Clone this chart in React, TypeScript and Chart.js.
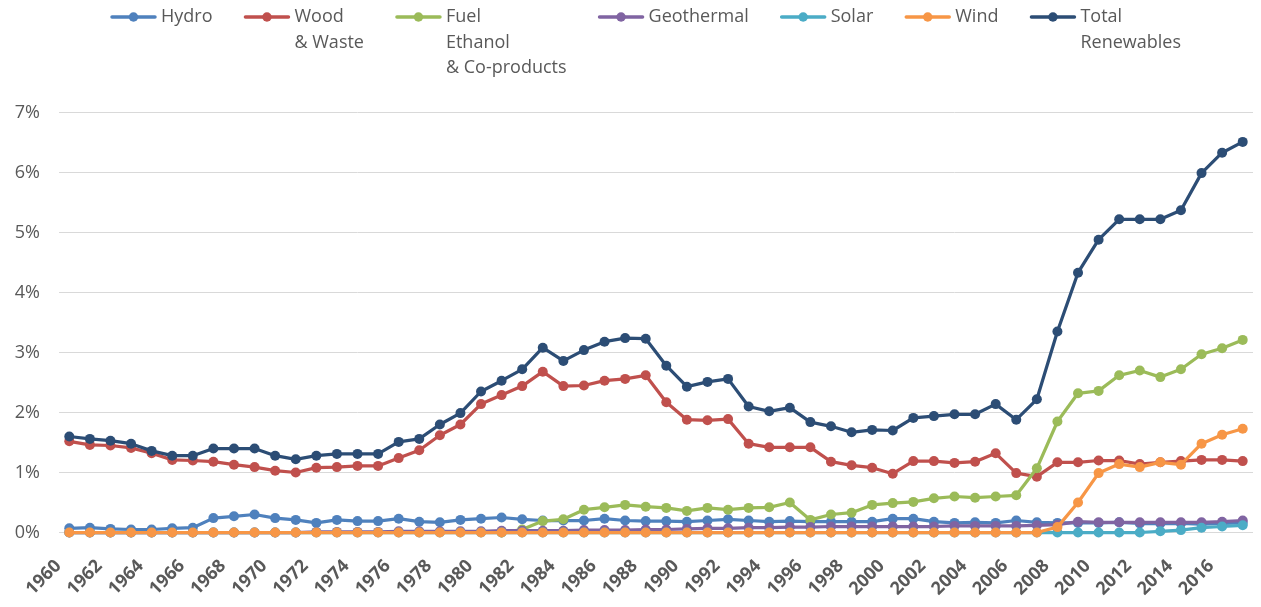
import React, { useEffect, useRef } from "react";
import { Chart, registerables } from "chart.js";

Chart.register(...registerables);

const YEARS = [
  "1960", "1961", "1962", "1963", "1964", "1965", "1966", "1967", "1968", "1969",
  "1970", "1971", "1972", "1973", "1974", "1975", "1976", "1977", "1978", "1979",
  "1980", "1981", "1982", "1983", "1984", "1985", "1986", "1987", "1988", "1989",
  "1990", "1991", "1992", "1993", "1994", "1995", "1996", "1997", "1998", "1999",
  "2000", "2001", "2002", "2003", "2004", "2005", "2006", "2007", "2008", "2009",
  "2010", "2011", "2012", "2013", "2014", "2015", "2016", "2017",
];

const HYDRO = [
  0.07, 0.08, 0.06, 0.05, 0.05, 0.07, 0.08, 0.24, 0.27, 0.30,
  0.24, 0.21, 0.16, 0.21, 0.19, 0.19, 0.23, 0.18, 0.17, 0.21,
  0.23, 0.25, 0.22, 0.20, 0.20, 0.20, 0.23, 0.20, 0.19, 0.19,
  0.18, 0.20, 0.22, 0.20, 0.18, 0.19, 0.18, 0.18, 0.18, 0.18,
  0.23, 0.23, 0.18, 0.16, 0.17, 0.16, 0.20, 0.17, 0.16, 0.16,
  0.16, 0.17, 0.15, 0.15, 0.15, 0.14, 0.15, 0.16,
];

const WOOD = [
  1.52, 1.46, 1.45, 1.41, 1.32, 1.21, 1.20, 1.18, 1.13, 1.09,
  1.03, 1.00, 1.08, 1.09, 1.11, 1.11, 1.24, 1.37, 1.62, 1.80,
  2.14, 2.29, 2.44, 2.68, 2.44, 2.45, 2.53, 2.56, 2.62, 2.17,
  1.88, 1.87, 1.89, 1.48, 1.42, 1.42, 1.42, 1.18, 1.12, 1.08,
  0.98, 1.19, 1.19, 1.16, 1.18, 1.32, 0.99, 0.93, 1.17, 1.17,
  1.20, 1.20, 1.14, 1.17, 1.19, 1.21, 1.21, 1.19,
];

const FUEL_ETHANOL = [
  null, null, null, null, null, null, null, null, null, null,
  null, null, null, null, null, null, null, null, null, null,
  null, 0.0, 0.05, 0.19, 0.22, 0.38, 0.42, 0.46, 0.43, 0.41,
  0.36, 0.41, 0.38, 0.41, 0.42, 0.50, 0.21, 0.30, 0.33, 0.46,
  0.49, 0.51, 0.57, 0.60, 0.58, 0.60, 0.62, 1.07, 1.85, 2.32,
  2.36, 2.62, 2.70, 2.59, 2.72, 2.97, 3.07, 3.21,
];

const GEOTHERMAL = [
  0, 0, 0, 0, 0, 0, 0, 0, 0, 0,
  0, 0, 0.01, 0.01, 0.01, 0.01, 0.02, 0.02, 0.02, 0.02,
  0.02, 0.03, 0.03, 0.03, 0.03, 0.04, 0.04, 0.04, 0.05, 0.05,
  0.06, 0.07, 0.07, 0.08, 0.08, 0.09, 0.09, 0.10, 0.10, 0.10,
  0.10, 0.10, 0.10, 0.11, 0.11, 0.11, 0.11, 0.12, 0.13, 0.18,
  0.17, 0.17, 0.17, 0.17, 0.17, 0.17, 0.18, 0.20,
];

const SOLAR = [
  0, 0, 0, 0, 0, 0, 0, 0, 0, 0,
  0, 0, 0, 0, 0, 0, 0, 0, 0, 0,
  0, 0, 0, 0, 0, 0, 0, 0, 0, 0,
  0, 0, 0, 0, 0, 0, 0, 0, 0, 0,
  0, 0, 0, 0, 0, 0, 0, 0, 0, 0,
  0, 0, 0, 0.02, 0.04, 0.08, 0.10, 0.12,
];

const WIND = [
  0, 0, 0, 0, 0, 0, 0, 0, 0, 0,
  0, 0, 0, 0, 0, 0, 0, 0, 0, 0,
  0, 0, 0, 0, 0, 0, 0, 0, 0, 0,
  0, 0, 0, 0, 0, 0, 0, 0, 0, 0,
  0, 0, 0, 0, 0, 0, 0, 0, 0.09, 0.50,
  0.99, 1.14, 1.09, 1.17, 1.13, 1.48, 1.63, 1.73,
];

const TOTAL = [
  1.60, 1.56, 1.53, 1.48, 1.36, 1.28, 1.28, 1.40, 1.40, 1.40,
  1.28, 1.22, 1.28, 1.31, 1.31, 1.31, 1.51, 1.56, 1.80, 1.99,
  2.35, 2.53, 2.72, 3.08, 2.86, 3.04, 3.18, 3.24, 3.23, 2.78,
  2.43, 2.51, 2.56, 2.10, 2.02, 2.08, 1.84, 1.77, 1.67, 1.71,
  1.70, 1.91, 1.94, 1.97, 1.97, 2.14, 1.88, 2.22, 3.35, 4.33,
  4.88, 5.22, 5.22, 5.22, 5.37, 5.99, 6.33, 6.51,
];

const SERIES_LABELS = [
  ["Hydro"],
  ["Wood", "& Waste"],
  ["Fuel", "Ethanol", "& Co-products"],
  ["Geothermal"],
  ["Solar"],
  ["Wind"],
  ["Total", "Renewables"],
];

const SERIES_COLORS = ["#4F81BD", "#C0504D", "#9BBB59", "#8064A2", "#4BACC6", "#F79646", "#2C4D75"];
const SERIES_DATA = [HYDRO, WOOD, FUEL_ETHANOL, GEOTHERMAL, SOLAR, WIND, TOTAL];

const Y_TICKS = [0, 1, 2, 3, 4, 5, 6, 7];

const FONT = "'Open Sans', 'Noto Sans', sans-serif";
const TEXT_COLOR = "#595959";

const legendPlugin = {
  id: "excelLegend",
  afterDraw(chart: any) {
    const ctx = chart.ctx as CanvasRenderingContext2D;
    ctx.save();
    ctx.font = `18px ${FONT}`;
    ctx.textBaseline = "middle";
    ctx.textAlign = "left";
    const sampleW = 47;
    const textGap = 4;
    const lineH = 25.5;
    const y0 = 17;
    const startX = 110;
    const endX = 1181;
    const items = chart.data.datasets.map((ds: any, i: number) => {
      const lines = SERIES_LABELS[i];
      const tw = Math.max(...lines.map((l) => ctx.measureText(l).width));
      return { ds, lines, w: sampleW + textGap + tw };
    });
    const total = items.reduce((s: number, it: any) => s + it.w, 0);
    const gap = (endX - startX - total) / (items.length - 1);
    let x = startX;
    items.forEach((it: any) => {
      const color = it.ds.borderColor;
      ctx.strokeStyle = color;
      ctx.lineWidth = 3.5;
      ctx.lineCap = "round";
      ctx.beginPath();
      ctx.moveTo(x + 2, y0);
      ctx.lineTo(x + sampleW - 2, y0);
      ctx.stroke();
      ctx.fillStyle = color;
      ctx.beginPath();
      ctx.arc(x + sampleW / 2, y0, 4.75, 0, Math.PI * 2);
      ctx.fill();
      ctx.fillStyle = TEXT_COLOR;
      it.lines.forEach((l: string, j: number) => {
        ctx.fillText(l, x + sampleW + textGap, y0 + j * lineH);
      });
      x += it.w + gap;
    });
    ctx.restore();
  },
};

export default function App() {
  const ref = useRef<HTMLCanvasElement>(null);

  useEffect(() => {
    if (!ref.current) return;
    const datasets = SERIES_DATA.map((data, i) => ({
      label: SERIES_LABELS[i].join(" "),
      data,
      borderColor: SERIES_COLORS[i],
      backgroundColor: SERIES_COLORS[i],
      pointBackgroundColor: SERIES_COLORS[i],
      pointBorderColor: SERIES_COLORS[i],
      pointBorderWidth: 0,
      pointRadius: 5,
      pointHoverRadius: 5,
      borderWidth: 3.25,
      borderJoinStyle: "round" as const,
      borderCapStyle: "round" as const,
      tension: 0,
      fill: false,
      spanGaps: false,
      clip: false,
      order: SERIES_DATA.length - 1 - i,
    }));

    const chart = new Chart(ref.current, {
      type: "line",
      data: { labels: YEARS, datasets },
      plugins: [legendPlugin],
      options: {
        animation: false,
        responsive: false,
        layout: { padding: { top: 112.5, right: 8, bottom: 0, left: 0 } },
        plugins: {
          legend: { display: false },
          tooltip: { enabled: false },
          title: { display: false },
        },
        scales: {
          x: {
            type: "category",
            offset: true,
            grid: { display: false, drawTicks: false },
            border: { display: false },
            ticks: {
              autoSkip: false,
              maxRotation: 45,
              minRotation: 45,
              padding: 23,
              labelOffset: -11,
              color: TEXT_COLOR,
              font: { family: FONT, size: 18, weight: "bold" },
              callback: (_v: any, i: number) => (i % 2 === 0 ? YEARS[i] : ""),
            },
            afterFit: (s: any) => {
              s.height = 74.5;
              s.paddingLeft = 0;
              s.paddingRight = 0;
            },
          },
          y: {
            min: Y_TICKS[0],
            max: Y_TICKS[Y_TICKS.length - 1],
            grid: { color: "#D9D9D9", lineWidth: 1, drawTicks: false },
            border: { display: false },
            ticks: {
              stepSize: 1,
              padding: 19,
              color: TEXT_COLOR,
              font: { family: FONT, size: 18 },
              callback: (v: any) => `${v}%`,
            },
            afterFit: (s: any) => {
              s.width = 59;
            },
          },
        },
      },
    } as any);

    const fonts = (document as any).fonts;
    if (fonts && fonts.ready) {
      fonts.ready.then(() => {
        try {
          chart.update();
        } catch (e) {}
      });
    }

    return () => chart.destroy();
  }, []);

  return (
    <div style={{ position: "absolute", left: 0, top: 0, width: 1261, height: 607, background: "#fff" }}>
      <canvas ref={ref} width={1261} height={607} style={{ display: "block", width: 1261, height: 607 }} />
    </div>
  );
}
